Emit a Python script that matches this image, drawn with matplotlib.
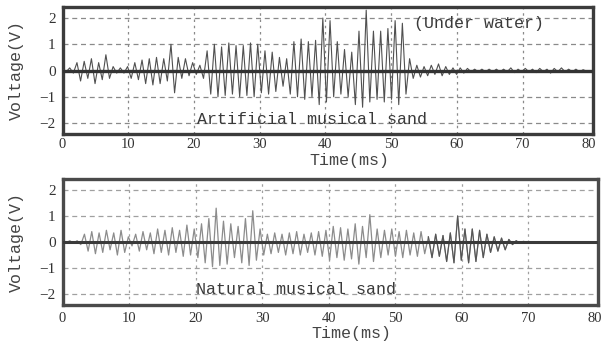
import matplotlib.pyplot as plt
import numpy as np

# half-period of the oscillation (ms); peaks and troughs alternate
half_period = 0.55

# Artificial musical sand (under water): peak / trough voltages
artificial_v = [
    0.05, -0.05, 0.1, -0.1, 0.3, -0.4, 0.35, -0.3, 0.45, -0.5,
    0.3, -0.35, 0.6, -0.3, 0.15, -0.1, 0.1, -0.1, 0.15, -0.3,
    0.3, -0.35, 0.4, -0.5, 0.45, -0.55, 0.5, -0.5, 0.45, -0.4,
    1.0, -0.85, 0.5, -0.3, 0.45, -0.2, 0.3, -0.15, 0.2, -0.3,
    0.75, -0.9, 1.0, -1.0, 0.9, -0.95, 1.05, -0.9, 0.95, -1.0,
    0.95, -0.95, 1.05, -1.0, 1.0, -0.85, 0.75, -0.9, 0.7, -0.8,
    0.5, -0.6, 0.45, -0.9, 1.1, -1.0, 1.2, -1.1, 1.1, -1.0,
    1.15, -1.3, 2.0, -1.2, 1.9, -1.0, 1.1, -0.9, 0.8, -1.0,
    0.7, -1.3, 1.5, -1.4, 2.3, -1.2, 1.5, -1.1, 1.5, -1.2,
    1.6, -1.1, 1.9, -1.3, 1.8, -0.9, 0.45, -0.3, 0.2, -0.25,
    0.15, -0.2, 0.2, -0.15, 0.25, -0.2, 0.15, -0.15, 0.1, -0.15,
    0.1, -0.1, 0.08, -0.05, 0.05, -0.05, 0.05, -0.05, 0.05, -0.05,
    0.05, -0.05, 0.05, -0.05, 0.1, -0.08, 0.05, -0.05, 0.08, -0.05,
    0.05, -0.08, 0.08, -0.05, 0.05, -0.1, 0.08, -0.05, 0.1, -0.05,
    0.05, -0.05, 0.05, -0.05, 0.03, -0.03,
]

# Natural musical sand: peak / trough voltages
natural_v = [
    0.03, -0.03, 0.05, -0.05, 0.05, -0.1, 0.3, -0.35, 0.4, -0.45,
    0.35, -0.4, 0.45, -0.3, 0.35, -0.5, 0.45, -0.4, 0.2, -0.15,
    0.3, -0.35, 0.4, -0.3, 0.35, -0.45, 0.5, -0.4, 0.45, -0.5,
    0.55, -0.4, 0.45, -0.55, 0.65, -0.5, 0.5, -0.6, 0.7, -0.8,
    0.9, -0.95, 1.3, -0.9, 0.8, -0.85, 0.7, -0.6, 0.6, -0.8,
    0.9, -0.9, 1.2, -0.7, 0.5, -0.5, 0.3, -0.45, 0.35, -0.4,
    0.3, -0.5, 0.35, -0.45, 0.4, -0.5, 0.3, -0.4, 0.35, -0.5,
    0.4, -0.55, 0.45, -0.7, 0.6, -0.6, 0.55, -0.7, 0.5, -0.65,
    0.7, -0.85, 0.6, -0.6, 1.05, -0.75, 0.5, -0.6, 0.45, -0.5,
    0.5, -0.55, 0.4, -0.6, 0.45, -0.5, 0.35, -0.55, 0.4, -0.45,
    0.2, -0.6, 0.3, -0.55, 0.25, -0.75, 0.35, -0.8, 1.0, -0.7,
    0.5, -0.8, 0.5, -0.75, 0.45, -0.6, 0.3, -0.4, 0.2, -0.35,
    0.15, -0.3, 0.1, -0.1, 0.05, -0.05, 0.03, -0.03,
]

xticks = [0, 10, 20, 30, 40, 50, 60, 70, 80]
yticks = [-2, -1, 0, 1, 2]

t_art = np.arange(len(artificial_v)) * half_period
t_nat = np.arange(len(natural_v)) * half_period

mono = 'Liberation Mono'
serif = 'Liberation Serif'


def style_panel(ax, xmax, frame_color, grid_color, xpad, label_y):
    ax.set_xlim(0, xmax)
    ax.set_ylim(-2.42, 2.42)
    ax.set_xticks(xticks)
    ax.set_yticks(yticks)
    ax.tick_params(length=0, pad=5, colors='#333333')
    ax.tick_params(axis='x', pad=xpad)
    for lbl in ax.get_xticklabels():
        lbl.set_family(serif)
        lbl.set_fontsize(10.5)
    for lbl in ax.get_yticklabels():
        lbl.set_family(serif)
        lbl.set_fontsize(11)
    for y in [-2, -1, 1, 2]:
        ax.axhline(y, color=grid_color, lw=0.9, ls=(0, (4, 3)), zorder=1)
    for x in xticks[1:-1]:
        ax.axvline(x, color=grid_color, lw=0.9, ls=(0, (2, 3)), zorder=1)
    for s in ax.spines.values():
        s.set_color(frame_color)
        s.set_linewidth(2.4)
    ax.set_ylabel('Voltage(V)', family=mono, fontsize=12, color='#444444')
    ax.yaxis.set_label_coords(-0.072, 0.5)
    ax.set_xlabel('Time(ms)', family=mono, fontsize=12, color='#444444')
    ax.xaxis.set_label_coords(0.54, label_y)


fig = plt.figure(figsize=(6.15, 3.43), dpi=100)

ax1 = fig.add_axes([62.5 / 615, 1 - 134 / 343, (593 - 62.5) / 615, 127 / 343])
style_panel(ax1, 80.7, '#3c3c3c', '#8a8a8a', 3, -0.15)
ax1.plot(t_art, artificial_v, color='#505050', lw=0.8, zorder=3)
ax1.axhline(0, color='#333333', lw=2.4, zorder=4)
ax1.text(20.4, -2.03, 'Artificial musical sand', family=mono, fontsize=12,
         color='#3a3a3a', va='baseline', ha='left', zorder=5)
ax1.text(53.5, 1.62, '(Under water)', family=mono, fontsize=12,
         color='#3a3a3a', va='baseline', ha='left', zorder=5)

ax2 = fig.add_axes([62.5 / 615, 1 - 305 / 343, (598 - 62.5) / 615, 126 / 343])
style_panel(ax2, 80.5, '#4a4a4a', '#a0a0a0', 5, -0.165)
ax2.plot(t_nat, natural_v, color='#8c8c8c', lw=0.9, zorder=3)
ax2.plot(t_nat[100:126], natural_v[100:126], color='#555555', lw=0.8, zorder=3)
ax2.axhline(0, color='#3a3a3a', lw=2.2, zorder=4)
ax2.text(20.0, -1.98, 'Natural musical sand', family=mono, fontsize=12,
         color='#3a3a3a', va='baseline', ha='left', zorder=5)

fig.savefig('out.png', dpi=100)
